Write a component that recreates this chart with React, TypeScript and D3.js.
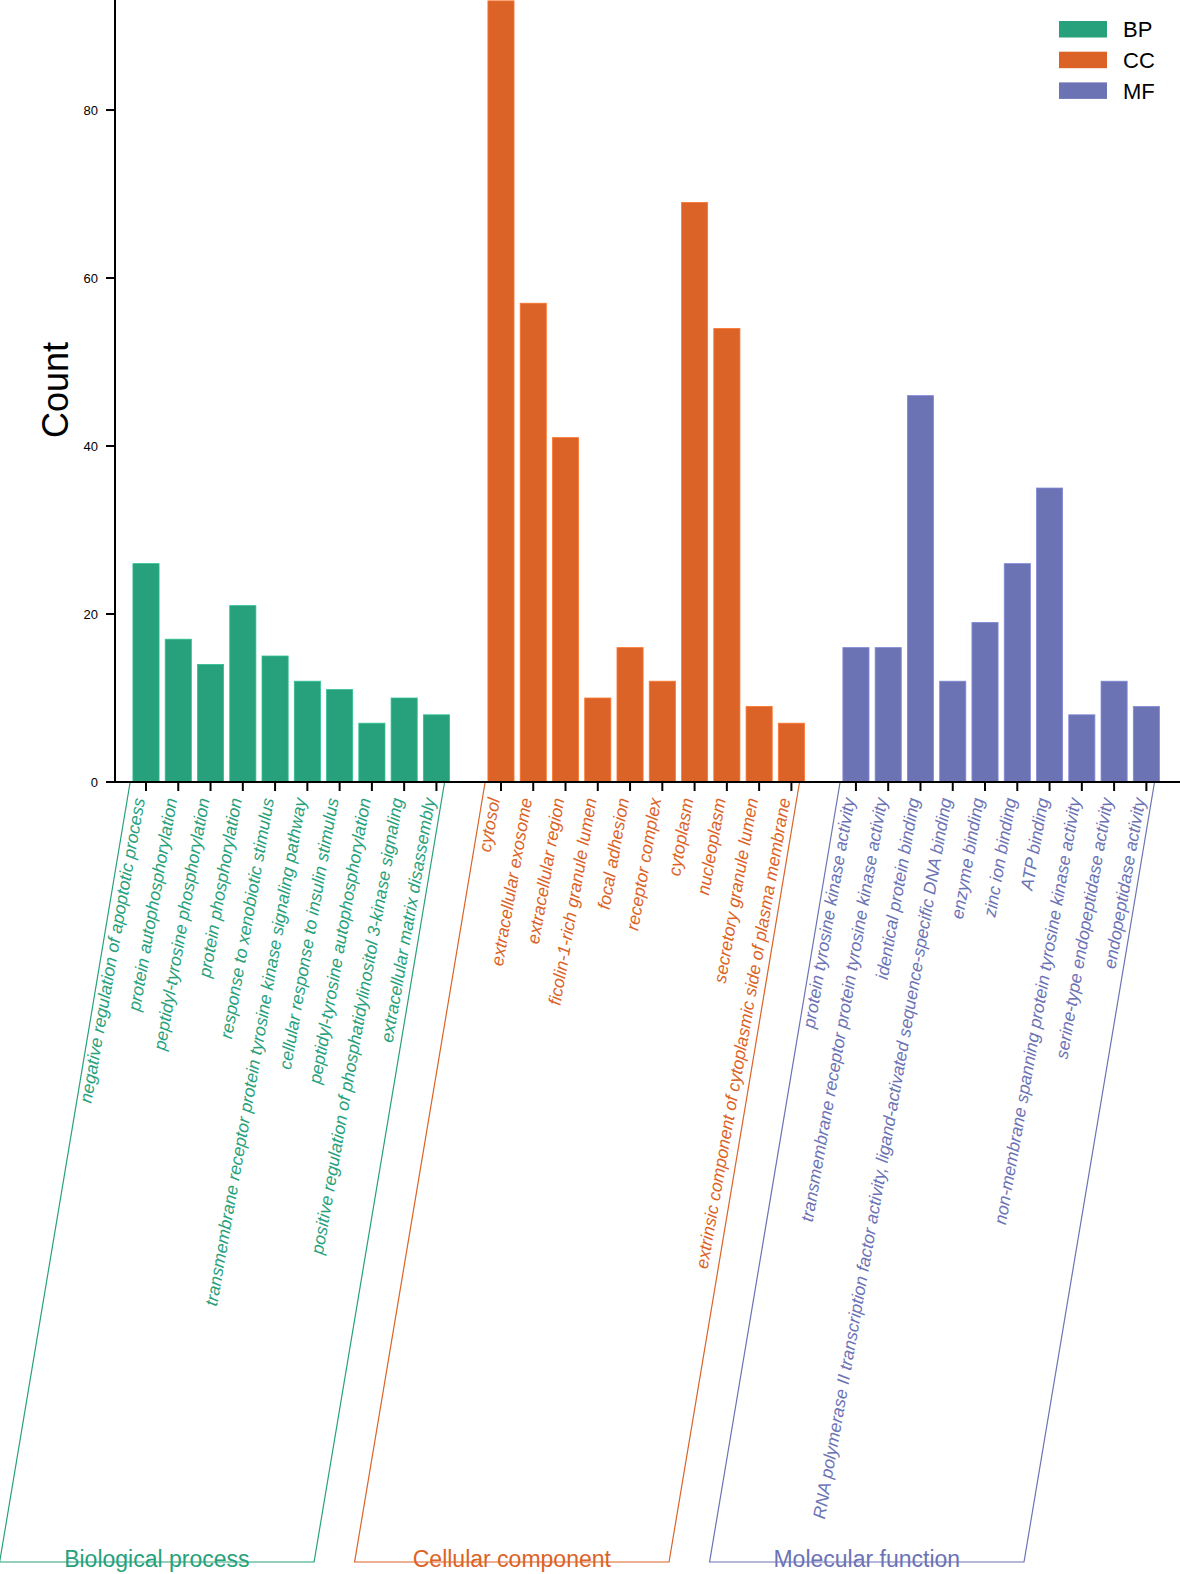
import React from "react";
import * as d3 from "d3";

const bpTerms = [
  "negative regulation of apoptotic process",
  "protein autophosphorylation",
  "peptidyl-tyrosine phosphorylation",
  "protein phosphorylation",
  "response to xenobiotic stimulus",
  "transmembrane receptor protein tyrosine kinase signaling pathway",
  "cellular response to insulin stimulus",
  "peptidyl-tyrosine autophosphorylation",
  "positive regulation of phosphatidylinositol 3-kinase signaling",
  "extracellular matrix disassembly",
];
const bpCounts = [26, 17, 14, 21, 15, 12, 11, 7, 10, 8];

const ccTerms = [
  "cytosol",
  "extracellular exosome",
  "extracellular region",
  "ficolin-1-rich granule lumen",
  "focal adhesion",
  "receptor complex",
  "cytoplasm",
  "nucleoplasm",
  "secretory granule lumen",
  "extrinsic component of cytoplasmic side of plasma membrane",
];
const ccCounts = [93, 57, 41, 10, 16, 12, 69, 54, 9, 7];

const mfTerms = [
  "protein tyrosine kinase activity",
  "transmembrane receptor protein tyrosine kinase activity",
  "identical protein binding",
  "RNA polymerase II transcription factor activity, ligand-activated sequence-specific DNA binding",
  "enzyme binding",
  "zinc ion binding",
  "ATP binding",
  "non-membrane spanning protein tyrosine kinase activity",
  "serine-type endopeptidase activity",
  "endopeptidase activity",
];
const mfCounts = [16, 16, 46, 12, 19, 26, 35, 8, 12, 9];

const groupKeys = ["BP", "CC", "MF"];
const groupNames = ["Biological process", "Cellular component", "Molecular function"];
const groupColors = ["#27a17b", "#db6327", "#6c73b5"];
const yTicks = [0, 20, 40, 60, 80];

const FONT = "'Liberation Sans', Arial, Helvetica, sans-serif";

type Row = { key: string; term: string; count: number; group: number };

export default function App() {
  const W = 1180;
  const H = 1574;
  const baseY = 782;
  const axisX = 115;

  const groups = [
    { terms: bpTerms, counts: bpCounts },
    { terms: ccTerms, counts: ccCounts },
    { terms: mfTerms, counts: mfCounts },
  ];

  const rows: Row[] = [];
  const domain: string[] = [];
  groups.forEach((g, gi) => {
    if (gi > 0) domain.push(`gap${gi}`);
    g.terms.forEach((t, i) => {
      const key = `${gi}-${i}`;
      domain.push(key);
      rows.push({ key, term: t, count: g.counts[i], group: gi });
    });
  });

  const step = 32.27;
  const x0 = 146 - step / 2;
  const x = d3
    .scaleBand<string>()
    .domain(domain)
    .range([x0, x0 + step * domain.length])
    .paddingInner(0.19)
    .paddingOuter(0.095);
  const y = d3.scaleLinear().domain([0, 93.1]).range([baseY, 0]);
  const bw = x.bandwidth();
  const cx = (k: string) => (x(k) as number) + bw / 2;

  const slant = Math.tan((9.5 * Math.PI) / 180);
  const bottomY = 1562;
  const topY = baseY + 1;

  return (
    <svg
      width={W}
      height={H}
      style={{ position: "absolute", left: 0, top: 0, background: "#fff" }}
      fontFamily={FONT}
    >
      {/* bars */}
      {rows.map((r) => (
        <rect
          key={r.key}
          x={x(r.key)}
          y={y(r.count)}
          width={bw}
          height={baseY - y(r.count)}
          fill={groupColors[r.group]}
          stroke={d3.color(groupColors[r.group])!.brighter(0.5).formatHex()}
          strokeWidth={0.8}
        />
      ))}

      {/* y axis */}
      <line x1={axisX} x2={axisX} y1={0} y2={baseY + 1} stroke="#000" strokeWidth={2} />
      {yTicks.map((t) => (
        <g key={t}>
          <line x1={axisX - 9} x2={axisX} y1={y(t)} y2={y(t)} stroke="#000" strokeWidth={2} />
          <text x={axisX - 17} y={y(t)} dy="0.35em" textAnchor="end" fontSize={13} fill="#000">
            {t}
          </text>
        </g>
      ))}
      <text
        transform={`translate(68,390) rotate(-90)`}
        textAnchor="middle"
        fontSize={36}
        fill="#000"
      >
        Count
      </text>

      {/* x axis */}
      <line x1={107} x2={W} y1={baseY} y2={baseY} stroke="#000" strokeWidth={2} />
      {rows.map((r) => (
        <line
          key={`t${r.key}`}
          x1={cx(r.key)}
          x2={cx(r.key)}
          y1={baseY}
          y2={baseY + 9}
          stroke="#000"
          strokeWidth={2}
        />
      ))}

      {/* category labels */}
      {rows.map((r) => (
        <text
          key={`l${r.key}`}
          transform={`translate(${cx(r.key) - 7},${798}) rotate(-80)`}
          textAnchor="end"
          dy="0.35em"
          fontSize={17.5}
          fontStyle="italic"
          fill={groupColors[r.group]}
        >
          {r.term}
        </text>
      ))}

      {/* group boxes */}
      {groups.map((g, gi) => {
        const first = `${gi}-0`;
        const last = `${gi}-${g.terms.length - 1}`;
        const tl = cx(first) - 16;
        const tr = cx(last) + 8;
        const shift = (bottomY - topY) * slant;
        const bl = tl - shift;
        const br = tr - shift;
        const path = `M${tl},${topY}L${bl},${bottomY}L${br},${bottomY}L${tr},${topY}`;
        return (
          <g key={`g${gi}`}>
            <path d={path} fill="none" stroke={groupColors[gi]} strokeWidth={1.2} />
            <text
              x={(bl + br) / 2}
              y={bottomY + 5}
              textAnchor="middle"
              fontSize={23}
              fill={groupColors[gi]}
            >
              {groupNames[gi]}
            </text>
          </g>
        );
      })}

      {/* legend */}
      {groupKeys.map((k, i) => (
        <g key={k} transform={`translate(1059,${21 + i * 30.7})`}>
          <rect width={48} height={16.5} fill={groupColors[i]} />
          <text x={64} y={8.5} dy="0.36em" fontSize={22} fill="#000">
            {k}
          </text>
        </g>
      ))}
    </svg>
  );
}
